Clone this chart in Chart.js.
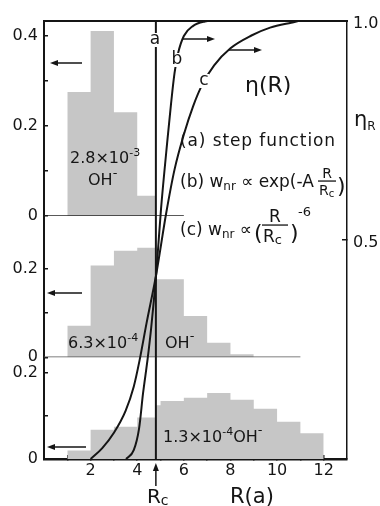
<!DOCTYPE html>
<html>
<head>
<meta charset="utf-8">
<script src="https://cdn.jsdelivr.net/npm/chart.js@4.4.1/dist/chart.umd.min.js"></script>
<style>
  html, body { margin: 0; padding: 0; background: #fff; }
  #chart { display: block; }
</style>
</head>
<body>
<canvas id="chart" width="380" height="506"></canvas>
<script>
// R in units of a; histogram bins are given by their left edge, the last edge closes the bin
const RC = 4.8;

const topEdges = [1, 2, 3, 4, 4.8];
const topFrac = [0.275, 0.41, 0.23, 0.045, 0];
const midEdges = [1, 2, 3, 4, 4.8, 6, 7, 8, 9];
const midFrac = [0.071, 0.207, 0.24, 0.247, 0.176, 0.093, 0.033, 0.007, 0];
const botEdges = [1, 2, 3, 4, 4.8, 5, 6, 7, 8, 9, 10, 11, 12];
const botFrac = [0.02, 0.068, 0.075, 0.097, 0.125, 0.135, 0.143, 0.154, 0.138, 0.117, 0.087, 0.06, 0];

// zero lines of the two upper panels
const topBaseR = [0, 6];
const midBaseR = [0, 11];

// eta(R) curves
const etaAR = [RC, RC, 13];
const etaA = [0, 1, 1];
const etaBR = [3.52, 3.85, 4.08, 4.25, 4.45, 4.6, 4.81, 5.02, 5.3, 5.45, 5.6, 5.75, 6.0, 6.4, 6.9, 7.3, 13];
const etaB = [0, 0.02, 0.07, 0.15, 0.23, 0.3, 0.42, 0.57, 0.73, 0.81, 0.88, 0.925, 0.965, 0.988, 0.998, 1, 1];
const etaCR = [2.0, 2.5, 3.0, 3.5, 3.85, 4.1, 4.4, 4.81, 5.24, 5.6, 6.0, 6.4, 6.8, 7.3, 8.0, 8.9, 9.7, 10.6, 11.1, 13];
const etaC = [0, 0.025, 0.06, 0.11, 0.165, 0.225, 0.31, 0.42, 0.56, 0.66, 0.74, 0.805, 0.855, 0.898, 0.937, 0.966, 0.984, 0.995, 1, 1];

const xTicks = [1, 2, 3, 4, 5, 6, 7, 8, 9, 10, 11, 12];
const xTickLabels = ["", "2", "", "4", "", "6", "", "8", "", "10", "", "12"];
const topTicks = [0, 0.1, 0.2, 0.3, 0.4];
const topTickLabels = ["0", "", "0.2", "", "0.4"];
const midTicks = [0, 0.1, 0.2];
const midTickLabels = ["0", "", "0.2"];
const botTicks = [0, 0.1, 0.2];
const botTickLabels = ["0", "", "0.2"];
const etaTicks = [0.5, 1.0];
const etaTickLabels = ["0.5", "1.0"];

const FAM = "'DejaVu Sans', sans-serif";
const INK = "#151515";
const GRAY = "#c6c6c6";

function pts(xs, ys) {
  return xs.map((x, i) => ({ x, y: ys[i] }));
}

function histo(edges, vals, axis) {
  return {
    data: pts(edges, vals), yAxisID: axis, stepped: true, fill: "origin",
    backgroundColor: GRAY, borderWidth: 0, pointRadius: 0, order: 3,
  };
}

function baseLine(rs, axis, color) {
  return {
    data: pts(rs, [0, 0]), yAxisID: axis, borderColor: color, borderWidth: 1.5,
    pointRadius: 0, fill: false, order: 2,
  };
}

function curve(rs, etas, smooth) {
  return {
    data: pts(rs, etas), yAxisID: "yR", borderColor: INK, borderWidth: 2, pointRadius: 0,
    fill: false, order: 1, cubicInterpolationMode: smooth ? "monotone" : "default", tension: 0,
  };
}

function leftAxis(ticks, labels, max, weight, stackWeight) {
  return {
    type: "linear", position: "left", stack: "panels", stackWeight, weight, min: 0, max,
    afterBuildTicks: (s) => { s.ticks = ticks.map((v) => ({ value: v })); },
    afterFit: (s) => { s.width = 44; },
    ticks: { autoSkip: false, padding: 10, color: INK, font: { family: FAM, size: 16 }, callback: (v, i) => labels[i] },
    grid: { drawOnChartArea: false, tickLength: -4, color: INK, lineWidth: 1.5 },
    border: { color: INK, width: 2 },
  };
}

function drawRun(ctx, x, y, parts) {
  for (const [t, size, dy = 0] of parts) {
    ctx.font = `${size}px ${FAM}`;
    ctx.fillText(t, x, y + dy);
    x += ctx.measureText(t).width;
  }
  return x;
}

function arrow(ctx, x1, y1, x2, y2) {
  const ang = Math.atan2(y2 - y1, x2 - x1);
  const hl = 8, hw = 3;
  ctx.beginPath();
  ctx.moveTo(x1, y1);
  ctx.lineTo(x2 - hl * Math.cos(ang), y2 - hl * Math.sin(ang));
  ctx.stroke();
  ctx.beginPath();
  ctx.moveTo(x2, y2);
  ctx.lineTo(x2 - hl * Math.cos(ang) + hw * Math.sin(ang), y2 - hl * Math.sin(ang) - hw * Math.cos(ang));
  ctx.lineTo(x2 - hl * Math.cos(ang) - hw * Math.sin(ang), y2 - hl * Math.sin(ang) + hw * Math.cos(ang));
  ctx.closePath();
  ctx.fill();
}

function fraction(ctx, cx, yBar, w, num, den, size) {
  ctx.save();
  ctx.textAlign = "center";
  ctx.font = `${size}px ${FAM}`;
  ctx.fillText(num, cx, yBar - 3);
  ctx.fillRect(cx - w / 2, yBar - 0.6, w, 1.3);
  const rw = ctx.measureText("R").width;
  ctx.textAlign = "left";
  drawRun(ctx, cx - w / 2 + 1, yBar + size, [[den, size], ["c", size - 4, 2]]);
  ctx.restore();
}

function curveTag(ctx, t, x, y) {
  ctx.save();
  ctx.fillStyle = "#fff";
  ctx.fillRect(x - 5, y - 7, 10, 14);
  ctx.fillStyle = INK;
  ctx.font = `17px ${FAM}`;
  ctx.textAlign = "center";
  ctx.textBaseline = "middle";
  ctx.fillText(t, x, y);
  ctx.restore();
}

const notes = {
  id: "notes",
  afterDraw(chart) {
    const ctx = chart.ctx;
    const xs = chart.scales.x;
    ctx.save();
    ctx.fillStyle = INK;
    ctx.strokeStyle = INK;
    ctx.lineWidth = 1.5;
    ctx.textBaseline = "alphabetic";

    curveTag(ctx, "a", 155, 40);
    curveTag(ctx, "b", 177, 60);
    curveTag(ctx, "c", 204, 81);

    arrow(ctx, 82, 63, 50, 63);
    arrow(ctx, 183, 39, 215, 39);
    arrow(ctx, 228, 50, 262, 50);
    arrow(ctx, 82, 293, 47, 293);
    arrow(ctx, 86, 447, 47, 447);

    drawRun(ctx, 245, 92, [["η(R)", 22]]);
    drawRun(ctx, 354, 126, [["η", 21], ["R", 12, 4]]);

    ctx.letterSpacing = "0.9px";
    drawRun(ctx, 180, 146, [["(a) step function", 17]]);
    ctx.letterSpacing = "0px";
    drawRun(ctx, 180, 187, [["(b) w", 17], ["nr", 12, 3], [" ∝ exp(-A", 17]]);
    fraction(ctx, 327, 181, 18, "R", "R", 14);
    drawRun(ctx, 337, 193, [[")", 22]]);

    const cEnd = drawRun(ctx, 180, 235, [["(c) w", 17], ["nr", 12, 3], [" ∝", 17]]);
    drawRun(ctx, cEnd + 2, 240, [["(", 22]]);
    fraction(ctx, 275, 225, 26, "R", "R", 17);
    drawRun(ctx, 290, 240, [[")", 22]]);
    drawRun(ctx, 298, 216, [["-6", 13]]);

    drawRun(ctx, 70, 163, [["2.8×10", 16], ["-3", 11, -7]]);
    drawRun(ctx, 88, 185, [["OH", 16], ["-", 13, -8]]);
    drawRun(ctx, 68, 348, [["6.3×10", 16], ["-4", 11, -7]]);
    drawRun(ctx, 165, 348, [["OH", 16], ["-", 13, -8]]);
    drawRun(ctx, 163, 442, [["1.3×10", 16], ["-4", 11, -7], ["OH", 16], ["-", 13, -8]]);

    const xr = xs.getPixelForValue(RC);
    arrow(ctx, xr, 486, xr, 463);
    drawRun(ctx, xr - 9, 503, [["R", 20], ["c", 14, 2]]);
    drawRun(ctx, 230, 503, [["R(a)", 21]]);
    ctx.restore();
  },
};

new Chart(document.getElementById("chart"), {
  type: "line",
  data: {
    datasets: [
      histo(topEdges, topFrac, "yTop"),
      histo(midEdges, midFrac, "yMid"),
      histo(botEdges, botFrac, "yBot"),
      baseLine(topBaseR, "yTop", "#222"),
      baseLine(midBaseR, "yMid", "#555"),
      curve(etaAR, etaA, false),
      curve(etaBR, etaB, true),
      curve(etaCR, etaC, true),
    ],
  },
  options: {
    responsive: false,
    animation: false,
    devicePixelRatio: 1,
    parsing: true,
    layout: { padding: { top: 15, left: 0, right: 0, bottom: 0 } },
    plugins: { legend: { display: false }, tooltip: { enabled: false } },
    scales: {
      x: {
        type: "linear", position: "bottom", min: 0, max: 13,
        afterBuildTicks: (s) => { s.ticks = xTicks.map((v) => ({ value: v })); },
        afterFit: (s) => { s.height = 47; },
        ticks: { autoSkip: false, maxRotation: 0, padding: 6, color: INK, font: { family: FAM, size: 16 }, callback: (v, i) => xTickLabels[i] },
        grid: { drawOnChartArea: false, tickLength: -4, color: INK, lineWidth: 1.5 },
        border: { color: INK, width: 2.5 },
      },
      xTop: {
        type: "linear", position: "top", min: 0, max: 13,
        afterFit: (s) => { s.height = 0; },
        ticks: { display: false },
        grid: { display: false },
        border: { display: true, color: INK, width: 2 },
      },
      yTop: leftAxis(topTicks, topTickLabels, 0.433, 3, 198),
      yMid: leftAxis(midTicks, midTickLabels, 0.318, 2, 143),
      yBot: leftAxis(botTicks, botTickLabels, 0.237, 1, 103),
      yR: {
        type: "linear", position: "right", min: 0, max: 1,
        afterBuildTicks: (s) => { s.ticks = etaTicks.map((v) => ({ value: v })); },
        afterFit: (s) => { s.width = 33; },
        ticks: { autoSkip: false, padding: 11, labelOffset: 3, color: INK, font: { family: FAM, size: 16 }, callback: (v, i) => etaTickLabels[i] },
        grid: { drawOnChartArea: false, tickLength: -5, color: INK, lineWidth: 1.5 },
        border: { color: INK, width: 1.5 },
      },
    },
  },
  plugins: [notes],
});
</script>
</body>
</html>
